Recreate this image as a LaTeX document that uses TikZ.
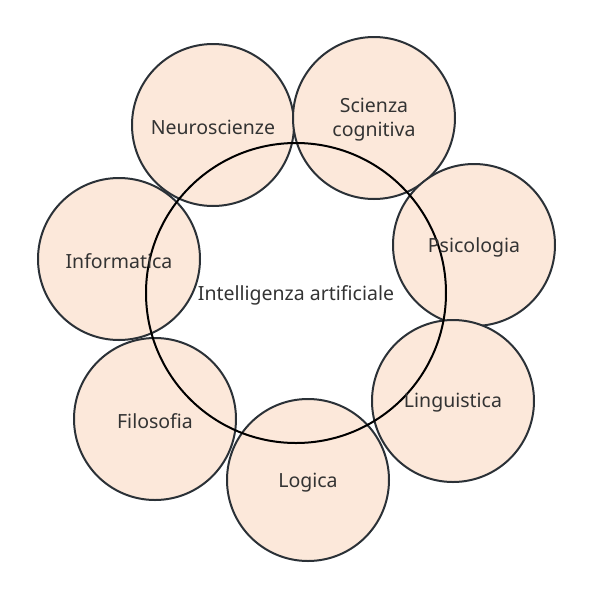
\documentclass[tikz,border=0pt]{standalone}
\usepackage{fontspec}
\setmainfont{Noto Sans}
\definecolor{topicfill}{HTML}{FCE8DA}
\definecolor{topicline}{HTML}{2B3137}
\definecolor{txt}{HTML}{333333}
\begin{document}
\begin{tikzpicture}[x=1pt,y=-1pt,
  topic/.style={circle,draw=topicline,line width=2pt,fill=topicfill,minimum size=162pt,inner sep=0pt},
  core/.style={circle,draw=black,line width=2pt,minimum size=300pt,inner sep=0pt},
  lbl/.style={text=txt,font=\fontsize{19.5}{24}\selectfont,align=center,yshift=-2pt}]
\useasboundingbox (0,0) rectangle (592,598);
\node[topic] (neuro) at (213,125) {};
\node[topic] (scienza) at (374,118) {};
\node[topic] (psico) at (474,245) {};
\node[topic] (ling) at (453,401) {};
\node[topic] (logica) at (308,480) {};
\node[topic] (filo) at (155,419) {};
\node[topic] (info) at (119,259) {};
\node[core] (ai) at (296,293) {};
\node[lbl] at (neuro) {Neuroscienze};
\node[lbl] at (scienza) {Scienza\\cognitiva};
\node[lbl] at (psico) {Psicologia};
\node[lbl] at (ling) {Linguistica};
\node[lbl,yshift=-1pt] at (logica) {Logica};
\node[lbl] at (filo) {Filosofia};
\node[lbl] at (info) {Informatica};
\node[lbl] at (ai) {Intelligenza artificiale};
\end{tikzpicture}
\end{document}
